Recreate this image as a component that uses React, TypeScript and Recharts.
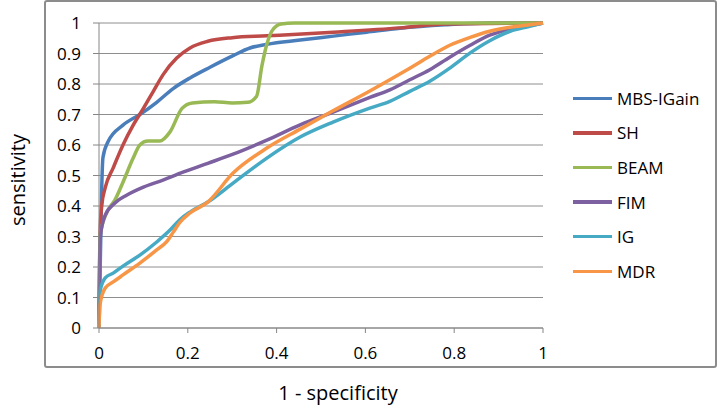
import React from "react";
import { CartesianGrid, Line, LineChart, XAxis, YAxis } from "recharts";

const FONT = "'Open Sans', 'Liberation Sans', sans-serif";

// ROC points: 1 - specificity (x) and sensitivity (y).
const mbsX = [0, 0.004, 0.006, 0.009, 0.02, 0.054, 0.092, 0.13, 0.167, 0.205, 0.25, 0.302, 0.34, 0.378, 0.453, 0.528, 0.603, 0.678, 0.78, 0.88, 1];
const mbsY = [0, 0.3, 0.45, 0.56, 0.61, 0.665, 0.7, 0.74, 0.785, 0.82, 0.855, 0.893, 0.918, 0.93, 0.944, 0.957, 0.97, 0.983, 0.994, 1, 1];

const shX = [0, 0.002, 0.006, 0.014, 0.032, 0.054, 0.077, 0.1, 0.122, 0.144, 0.175, 0.205, 0.245, 0.3, 0.378, 0.528, 0.678, 0.78, 1];
const shY = [0, 0.3, 0.4, 0.46, 0.525, 0.6, 0.665, 0.72, 0.775, 0.83, 0.885, 0.918, 0.94, 0.952, 0.958, 0.97, 0.984, 0.997, 1];

const beamX = [0, 0.002, 0.018, 0.036, 0.054, 0.077, 0.092, 0.11, 0.137, 0.16, 0.187, 0.21, 0.26, 0.3, 0.335, 0.355, 0.367, 0.378, 0.39, 0.41, 0.44, 1];
const beamY = [0, 0.3, 0.38, 0.42, 0.478, 0.557, 0.6, 0.613, 0.613, 0.643, 0.72, 0.738, 0.742, 0.738, 0.74, 0.76, 0.86, 0.93, 0.975, 0.997, 1, 1];

const fimX = [0, 0.001, 0.003, 0.014, 0.036, 0.063, 0.1, 0.144, 0.189, 0.245, 0.302, 0.378, 0.453, 0.527, 0.61, 0.655, 0.7, 0.745, 0.79, 0.836, 0.88, 0.926, 0.97, 1];
const fimY = [0, 0.15, 0.3, 0.37, 0.41, 0.436, 0.462, 0.485, 0.511, 0.54, 0.57, 0.616, 0.666, 0.708, 0.756, 0.781, 0.814, 0.847, 0.888, 0.927, 0.96, 0.98, 0.992, 1];

const igX = [0, 0.001, 0.002, 0.014, 0.032, 0.054, 0.092, 0.13, 0.16, 0.182, 0.205, 0.245, 0.302, 0.378, 0.453, 0.527, 0.61, 0.655, 0.7, 0.745, 0.79, 0.836, 0.88, 0.926, 0.97, 1];
const igY = [0, 0.06, 0.118, 0.164, 0.18, 0.203, 0.239, 0.282, 0.321, 0.355, 0.38, 0.413, 0.475, 0.557, 0.626, 0.675, 0.721, 0.743, 0.776, 0.809, 0.852, 0.902, 0.942, 0.973, 0.989, 1];

const mdrX = [0, 0.002, 0.014, 0.032, 0.054, 0.092, 0.13, 0.153, 0.168, 0.182, 0.205, 0.245, 0.302, 0.378, 0.453, 0.527, 0.61, 0.655, 0.7, 0.745, 0.79, 0.836, 0.88, 0.926, 0.97, 1];
const mdrY = [0, 0.075, 0.131, 0.151, 0.174, 0.213, 0.256, 0.284, 0.316, 0.346, 0.377, 0.413, 0.508, 0.59, 0.652, 0.712, 0.777, 0.814, 0.852, 0.891, 0.927, 0.953, 0.973, 0.986, 0.994, 1];

const xTicks = [0, 0.2, 0.4, 0.6, 0.8, 1];
const yTicks = [0, 0.1, 0.2, 0.3, 0.4, 0.5, 0.6, 0.7, 0.8, 0.9, 1];

const pts = (xs: number[], ys: number[]) => xs.map((x, i) => ({ x, y: ys[i] }));

const series = [
  { name: "MBS-IGain", color: "#4A7EBB", data: pts(mbsX, mbsY) },
  { name: "SH", color: "#BE4B48", data: pts(shX, shY) },
  { name: "BEAM", color: "#98B954", data: pts(beamX, beamY) },
  { name: "FIM", color: "#7D60A0", data: pts(fimX, fimY) },
  { name: "IG", color: "#46AAC5", data: pts(igX, igY) },
  { name: "MDR", color: "#F79646", data: pts(mdrX, mdrY) },
];

export default function App() {
  return (
    <div style={{ position: "fixed", left: 0, top: 0, width: 717, height: 406, background: "#fff" }}>
      {/* frame around plot, ticks and legend (titles sit outside it) */}
      <div
        style={{
          position: "absolute",
          left: 44,
          top: 0,
          width: 673,
          height: 368,
          border: "2px solid #8c8c8c",
          borderRadius: 3,
          boxSizing: "border-box",
        }}
      />
      <LineChart width={717} height={406} margin={{ top: 23, right: 174, bottom: 48, left: 45 }}>
        <CartesianGrid vertical={false} stroke="#8e8e8e" />
        <XAxis
          type="number"
          dataKey="x"
          domain={[0, 1]}
          ticks={xTicks}
          height={30}
          tickSize={5}
          tickMargin={14}
          stroke="#868686"
          tick={{ fill: "#000", fontSize: 17, fontFamily: FONT }}
        />
        <YAxis
          type="number"
          dataKey="y"
          domain={[0, 1]}
          ticks={yTicks}
          interval={0}
          width={54}
          tickSize={6}
          tickMargin={12}
          stroke="#868686"
          tick={{ fill: "#000", fontSize: 17, fontFamily: FONT }}
        />
        {series.map((s) => (
          <Line
            key={s.name}
            name={s.name}
            data={s.data}
            dataKey="y"
            type="monotone"
            stroke={s.color}
            strokeWidth={3.5}
            dot={false}
            activeDot={false}
            isAnimationActive={false}
          />
        ))}
      </LineChart>
      {/* legend, placed by hand to the right of the plot */}
      <div style={{ position: "absolute", left: 573, top: 81, fontFamily: FONT, fontSize: 17, color: "#000" }}>
        {series.map((s) => (
          <div key={s.name} style={{ height: 34.6, display: "flex", alignItems: "center" }}>
            <span style={{ width: 39, height: 3.5, background: s.color, marginRight: 5 }} />
            <span>{s.name}</span>
          </div>
        ))}
      </div>
      <div
        style={{
          position: "absolute",
          left: 17,
          top: 180,
          transform: "translate(-50%, -50%) rotate(-90deg)",
          fontFamily: FONT,
          fontSize: 20,
          whiteSpace: "nowrap",
        }}
      >
        sensitivity
      </div>
      <div
        style={{
          position: "absolute",
          left: 338,
          top: 392,
          transform: "translate(-50%, -50%)",
          fontFamily: FONT,
          fontSize: 20,
          whiteSpace: "nowrap",
        }}
      >
        1 - specificity
      </div>
    </div>
  );
}
